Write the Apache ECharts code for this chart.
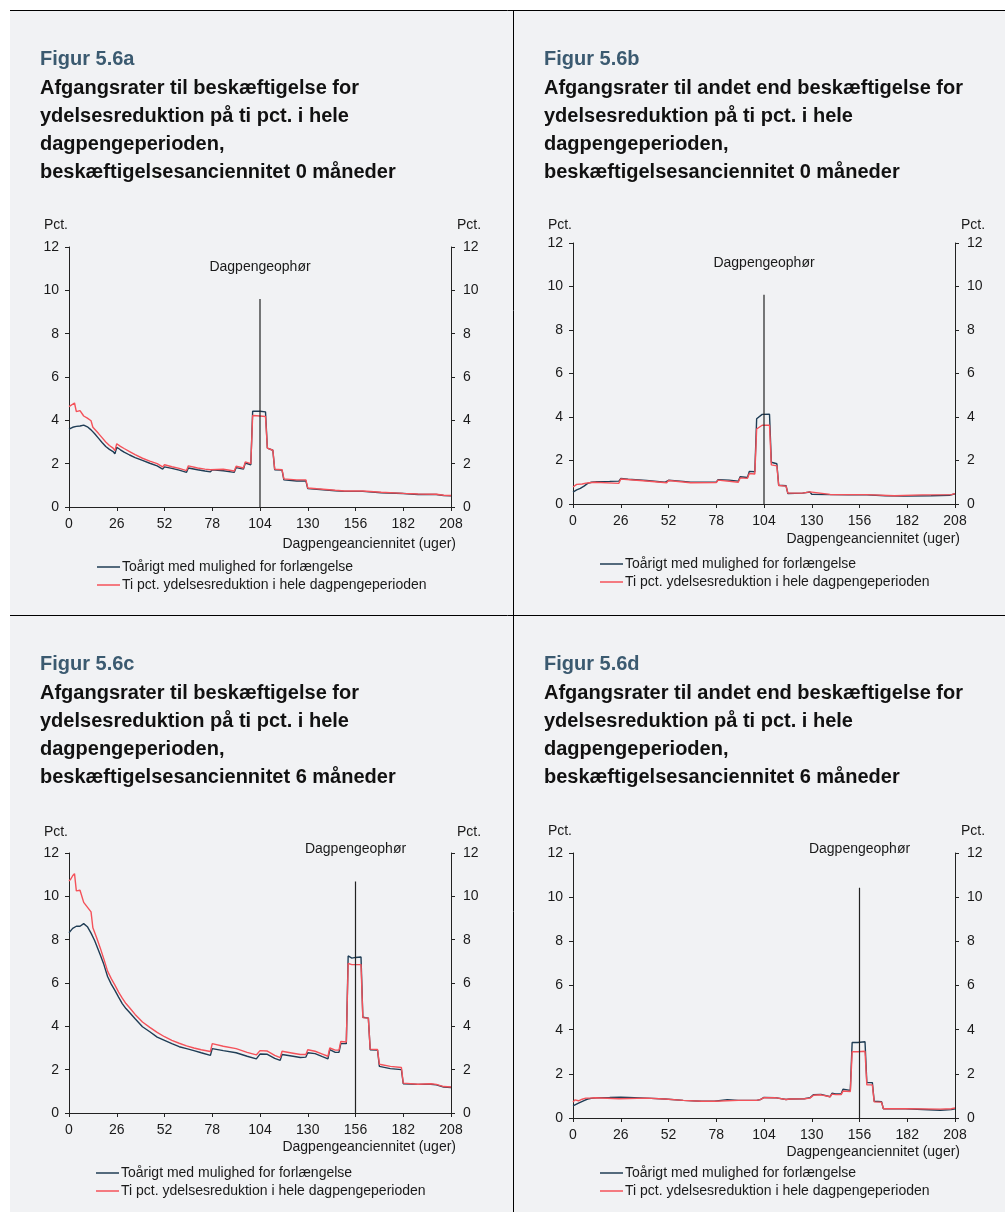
<!DOCTYPE html>
<html><head><meta charset="utf-8">
<script src="https://cdn.jsdelivr.net/npm/echarts@6/dist/echarts.min.js"></script>
<style>html,body{margin:0;padding:0;background:#fff;} #c{width:1005px;height:1212px;}</style>
</head><body><div id="c"></div>
<script>
// ---- data ----
const SERIES_NAMES = ['Toårigt med mulighed for forlængelse', 'Ti pct. ydelsesreduktion i hele dagpengeperioden'];
const X_AXIS_NAME = 'Dagpengeanciennitet (uger)';
const Y_AXIS_NAME = 'Pct.';
const STOP_LABEL = 'Dagpengeophør';
const X_MIN = 0, X_MAX = 208, X_STEP = 26;
const Y_MIN = 0, Y_MAX = 12, Y_STEP = 2;

const figurLabels = ['Figur 5.6a', 'Figur 5.6b', 'Figur 5.6c', 'Figur 5.6d'];
const titleTexts = [
  'Afgangsrater til beskæftigelse for\nydelsesreduktion på ti pct. i hele\ndagpengeperioden,\nbeskæftigelsesanciennitet 0 måneder',
  'Afgangsrater til andet end beskæftigelse for\nydelsesreduktion på ti pct. i hele\ndagpengeperioden,\nbeskæftigelsesanciennitet 0 måneder',
  'Afgangsrater til beskæftigelse for\nydelsesreduktion på ti pct. i hele\ndagpengeperioden,\nbeskæftigelsesanciennitet 6 måneder',
  'Afgangsrater til andet end beskæftigelse for\nydelsesreduktion på ti pct. i hele\ndagpengeperioden,\nbeskæftigelsesanciennitet 6 måneder'
];

// Panel a
const aBlue = [[0,3.59],[2,3.68],[4,3.72],[6,3.74],[8,3.78],[9,3.77],[10,3.7],[12,3.56],[14,3.38],[16,3.18],[18,2.98],[20,2.79],[22,2.66],[24,2.56],[25,2.45],[26,2.76],[28,2.64],[30,2.53],[33,2.4],[36,2.28],[40,2.15],[44,2.02],[48,1.9],[51,1.75],[52,1.85],[56,1.78],[60,1.7],[64,1.6],[65,1.8],[70,1.72],[74,1.66],[77,1.62],[78,1.72],[84,1.67],[90,1.6],[91,1.82],[95,1.75],[96,2.03],[99,1.95],[100,4.42],[104,4.42],[107,4.39],[108,2.72],[111,2.62],[112,1.72],[116,1.7],[117,1.25],[124,1.2],[129,1.2],[130,0.85],[135,0.82],[145,0.75],[150,0.72],[160,0.72],[170,0.66],[182,0.62],[190,0.58],[200,0.58],[204,0.53],[208,0.52]];
const aRed = [[0,4.63],[1,4.66],[3,4.8],[4,4.4],[6,4.45],[7,4.5],[8,4.2],[10,4.1],[11,4.05],[12,3.98],[13,3.68],[16,3.4],[18,3.2],[20,3.0],[22,2.84],[24,2.72],[25,2.6],[26,2.92],[28,2.8],[30,2.7],[33,2.56],[36,2.42],[40,2.25],[44,2.12],[48,2.0],[51,1.85],[52,1.95],[56,1.86],[60,1.78],[64,1.68],[65,1.9],[70,1.8],[74,1.75],[77,1.72],[78,1.8],[84,1.74],[90,1.66],[91,1.88],[95,1.8],[96,2.08],[99,2.0],[100,4.22],[104,4.2],[107,4.18],[108,2.72],[111,2.62],[112,1.75],[116,1.72],[117,1.3],[124,1.25],[129,1.25],[130,0.88],[135,0.84],[145,0.77],[150,0.74],[160,0.74],[170,0.68],[182,0.63],[190,0.6],[200,0.59],[204,0.54],[208,0.53]];
const aStop = [[104,0],[104,9.6]];
const aStopLabel = [104,11.09];

// Panel b
const bBlue = [[0,0.55],[2,0.65],[4,0.72],[6,0.82],[8,0.95],[10,1.0],[13,1.03],[20,1.04],[25,1.05],[26,1.17],[30,1.14],[40,1.08],[50,1.0],[51,0.98],[52,1.09],[60,1.04],[64,1.0],[65,1.04],[70,1.0],[78,1.0],[79,1.12],[85,1.1],[90,1.05],[91,1.25],[95,1.22],[96,1.5],[99,1.48],[100,3.92],[101,3.95],[103,4.12],[107,4.13],[108,1.92],[111,1.85],[112,0.86],[116,0.84],[117,0.48],[125,0.5],[129,0.55],[130,0.45],[140,0.43],[150,0.42],[160,0.42],[170,0.38],[180,0.36],[195,0.38],[205,0.4],[208,0.47]];
const bRed = [[0,0.78],[1,0.85],[2,0.9],[3,0.82],[5,0.92],[6,0.88],[7,0.96],[9,0.98],[12,1.0],[13,0.94],[25,0.95],[26,1.15],[40,1.06],[51,0.98],[52,1.08],[64,0.98],[65,1.02],[78,0.99],[79,1.1],[90,1.0],[91,1.2],[95,1.18],[96,1.4],[99,1.38],[100,3.45],[101,3.5],[103,3.62],[107,3.62],[108,1.8],[111,1.75],[112,0.85],[116,0.82],[117,0.5],[125,0.5],[129,0.56],[130,0.5],[140,0.44],[160,0.43],[175,0.38],[190,0.42],[206,0.43],[208,0.48]];
const bStop = [[104,0],[104,9.62]];
const bStopLabel = [104,11.08];

// Panel c
const cBlue = [[0,8.32],[2,8.52],[4,8.62],[6,8.62],[8,8.74],[9,8.72],[10,8.6],[12,8.3],[14,7.95],[17,7.3],[19,6.85],[21,6.3],[23,5.95],[25,5.66],[27,5.35],[29,5.05],[31,4.82],[33,4.64],[36,4.35],[40,3.98],[44,3.75],[48,3.5],[52,3.35],[56,3.2],[60,3.06],[64,2.97],[68,2.88],[72,2.78],[77,2.66],[78,2.97],[84,2.88],[91,2.78],[97,2.62],[102,2.5],[103,2.5],[104,2.72],[108,2.71],[112,2.52],[115,2.43],[116,2.7],[122,2.62],[126,2.56],[129,2.58],[130,2.78],[134,2.74],[138,2.6],[141,2.5],[142,2.93],[145,2.8],[147,2.8],[148,3.2],[151,3.2],[152,7.25],[154,7.15],[156,7.18],[159,7.2],[160,4.42],[163,4.38],[164,2.92],[168,2.9],[169,2.15],[175,2.05],[181,2.0],[182,1.35],[190,1.32],[197,1.33],[200,1.3],[204,1.2],[208,1.18]];
const cRed = [[0,10.7],[1,10.8],[2,10.95],[3,11.05],[4,10.25],[6,10.28],[7,10.35],[8,9.72],[9,9.65],[10,9.5],[12,9.28],[13,8.55],[15,8.1],[17,7.62],[19,7.1],[21,6.55],[23,6.2],[25,5.9],[27,5.58],[29,5.3],[31,5.05],[33,4.86],[36,4.55],[40,4.2],[44,3.95],[48,3.72],[52,3.52],[56,3.35],[60,3.22],[64,3.1],[68,3.0],[72,2.92],[77,2.84],[78,3.2],[84,3.08],[91,2.97],[97,2.8],[102,2.68],[103,2.68],[104,2.88],[108,2.86],[112,2.66],[115,2.56],[116,2.85],[122,2.76],[126,2.7],[129,2.7],[130,2.92],[134,2.85],[138,2.72],[141,2.62],[142,3.0],[145,2.9],[147,2.9],[148,3.3],[151,3.28],[152,6.9],[154,6.85],[159,6.85],[160,4.4],[163,4.38],[164,2.95],[168,2.93],[169,2.25],[175,2.15],[181,2.1],[182,1.38],[190,1.33],[197,1.35],[200,1.32],[204,1.22],[208,1.2]];
const cStop = [[156,0],[156,10.69]];
const cStopLabel = [156,12.17];

// Panel d
const dBlue = [[0,0.55],[3,0.67],[6,0.79],[8,0.86],[10,0.89],[13,0.92],[20,0.93],[26,0.94],[30,0.93],[40,0.9],[50,0.86],[60,0.8],[70,0.76],[77,0.76],[78,0.84],[84,0.83],[90,0.8],[100,0.8],[102,0.83],[104,0.93],[110,0.92],[116,0.84],[118,0.86],[126,0.87],[129,0.92],[131,1.06],[135,1.07],[140,0.96],[141,1.12],[143,1.09],[146,1.09],[147,1.3],[151,1.25],[152,3.42],[155,3.42],[159,3.45],[160,1.6],[163,1.6],[164,0.76],[168,0.74],[169,0.42],[181,0.42],[182,0.36],[200,0.35],[206,0.38],[208,0.42]];
const dRed = [[0,0.72],[1,0.82],[2,0.88],[3,0.78],[5,0.85],[6,0.8],[7,0.9],[9,0.9],[12,0.92],[13,0.85],[25,0.87],[26,0.93],[40,0.9],[50,0.86],[60,0.8],[70,0.76],[77,0.76],[78,0.84],[90,0.8],[100,0.8],[102,0.83],[104,0.92],[110,0.92],[116,0.84],[118,0.86],[126,0.87],[129,0.9],[131,1.03],[135,1.05],[140,0.96],[141,1.08],[143,1.06],[146,1.06],[147,1.22],[151,1.2],[152,3.0],[155,3.0],[159,3.02],[160,1.5],[163,1.5],[164,0.73],[168,0.72],[169,0.42],[181,0.42],[182,0.4],[200,0.4],[206,0.42],[208,0.45]];
const dStop = [[156,0],[156,10.43]];
const dStopLabel = [156,12.17];

// ---- layout / styles ----
const FONT = "'Liberation Sans', Arial, Helvetica, sans-serif";
const BLUE = '#1f3d55', RED = '#f4525a', TXT = '#1a1a1a', AX = '#222';
const panelDefs = [
  {blue:aBlue, red:aRed, stop:aStop, stopLabel:aStopLabel, tx:40, ty:45, grid:{left:69,top:247,width:382,height:260}, nameGap:15, legend:{left:97,top:560}, xnamePad:30},
  {blue:bBlue, red:bRed, stop:bStop, stopLabel:bStopLabel, tx:544, ty:45, grid:{left:573,top:243,width:382,height:261}, nameGap:11, legend:{left:600,top:557}, xnamePad:28},
  {blue:cBlue, red:cRed, stop:cStop, stopLabel:cStopLabel, tx:40, ty:650, grid:{left:69,top:853,width:382,height:260}, nameGap:14, legend:{left:96,top:1166}, xnamePad:27},
  {blue:dBlue, red:dRed, stop:dStop, stopLabel:dStopLabel, tx:544, ty:650, grid:{left:573,top:853,width:382,height:265}, nameGap:15, legend:{left:600,top:1166}, xnamePad:27}
];

const baseGraphic = [
  {type:'rect', shape:{x:10,y:10,width:995,height:1202}, style:{fill:'#f1f2f4'}, z:-10, silent:true},
  {type:'line', shape:{x1:10,y1:10.5,x2:1005,y2:10.5}, style:{stroke:'#000',lineWidth:1}, silent:true},
  {type:'line', shape:{x1:10,y1:615.5,x2:1005,y2:615.5}, style:{stroke:'#000',lineWidth:1}, silent:true},
  {type:'line', shape:{x1:513.5,y1:10,x2:513.5,y2:1212}, style:{stroke:'#000',lineWidth:1}, silent:true}
];

const option = {
  animation: false,
  backgroundColor: 'transparent',
  textStyle: {fontFamily: FONT},
  title: [], grid: [], xAxis: [], yAxis: [], series: [], legend: [],
  graphic: baseGraphic
};

panelDefs.forEach((p, i) => {
  option.title.push({left:p.tx, top:p.ty, text:figurLabels[i], padding:0,
    textStyle:{fontFamily:FONT, fontSize:20, fontWeight:'bold', color:'#3b5a70', lineHeight:28}});
  option.title.push({left:p.tx, top:p.ty+29, text:titleTexts[i], padding:0,
    textStyle:{fontFamily:FONT, fontSize:20, fontWeight:'bold', color:'#111', lineHeight:28}});
  option.grid.push(Object.assign({containLabel:false}, p.grid));
  const axisCommon = {
    axisLine:{show:true, onZero:false, lineStyle:{color:AX, width:1}},
    axisTick:{show:true, inside:false, length:4, lineStyle:{color:AX, width:1}},
    splitLine:{show:false},
    axisLabel:{fontFamily:FONT, fontSize:14, color:TXT}
  };
  option.xAxis.push(Object.assign({}, axisCommon, {
    type:'value', gridIndex:i, min:X_MIN, max:X_MAX, interval:X_STEP,
    name:X_AXIS_NAME, nameLocation:'end', nameGap:5,
    nameTextStyle:{fontFamily:FONT, fontSize:14, color:TXT, align:'right', verticalAlign:'top', padding:[p.xnamePad,0,0,0]},
    axisLabel:{fontFamily:FONT, fontSize:14, color:TXT, margin:10}
  }));
  option.yAxis.push(Object.assign({}, axisCommon, {
    type:'value', gridIndex:i, position:'left', min:Y_MIN, max:Y_MAX, interval:Y_STEP,
    name:Y_AXIS_NAME, nameLocation:'end', nameGap:p.nameGap,
    nameTextStyle:{fontFamily:FONT, fontSize:14, color:TXT, align:'right', verticalAlign:'bottom', padding:[0,1,0,0]},
    axisLabel:{fontFamily:FONT, fontSize:14, color:TXT, margin:10}
  }));
  option.yAxis.push(Object.assign({}, axisCommon, {
    type:'value', gridIndex:i, position:'right', min:Y_MIN, max:Y_MAX, interval:Y_STEP,
    name:Y_AXIS_NAME, nameLocation:'end', nameGap:p.nameGap,
    nameTextStyle:{fontFamily:FONT, fontSize:14, color:TXT, align:'left', verticalAlign:'bottom', padding:[0,0,0,6]},
    axisLabel:{fontFamily:FONT, fontSize:14, color:TXT, margin:12}
  }));
  option.series.push({type:'line', name:SERIES_NAMES[0], xAxisIndex:i, yAxisIndex:2*i, data:p.blue,
    showSymbol:false, symbol:'none', lineStyle:{color:BLUE, width:1.4}, itemStyle:{color:BLUE}, silent:true, z:3});
  option.series.push({type:'line', name:SERIES_NAMES[1], xAxisIndex:i, yAxisIndex:2*i, data:p.red,
    showSymbol:false, symbol:'none', lineStyle:{color:RED, width:1.4}, itemStyle:{color:RED}, silent:true, z:4});
  option.series.push({type:'line', name:'stop'+i, xAxisIndex:i, yAxisIndex:2*i, data:p.stop,
    showSymbol:false, symbol:'none', lineStyle:{color:'#222', width:1.2}, silent:true, z:5});
  option.legend.push({orient:'vertical', left:p.legend.left, top:p.legend.top, itemWidth:23, itemHeight:1.5,
    itemGap:4, icon:'rect', padding:0, selectedMode:false, data:SERIES_NAMES,
    textStyle:{fontFamily:FONT, fontSize:14, color:TXT, padding:[0,0,0,-3]}});
});

const chart = echarts.init(document.getElementById('c'), null, {renderer:'canvas'});
chart.setOption(option);

// "Dagpengeophør" annotation placed through each panel's own scales
const labelGraphics = panelDefs.map((p, i) => {
  const pt = chart.convertToPixel({xAxisIndex:i, yAxisIndex:2*i}, p.stopLabel);
  return {type:'text', x:pt[0], y:pt[1], silent:true, z:10,
    style:{text:STOP_LABEL, fill:TXT, font:'14px ' + FONT, textAlign:'center', textVerticalAlign:'middle'}};
});
chart.setOption({graphic: baseGraphic.concat(labelGraphics)});
</script>
</body></html>
